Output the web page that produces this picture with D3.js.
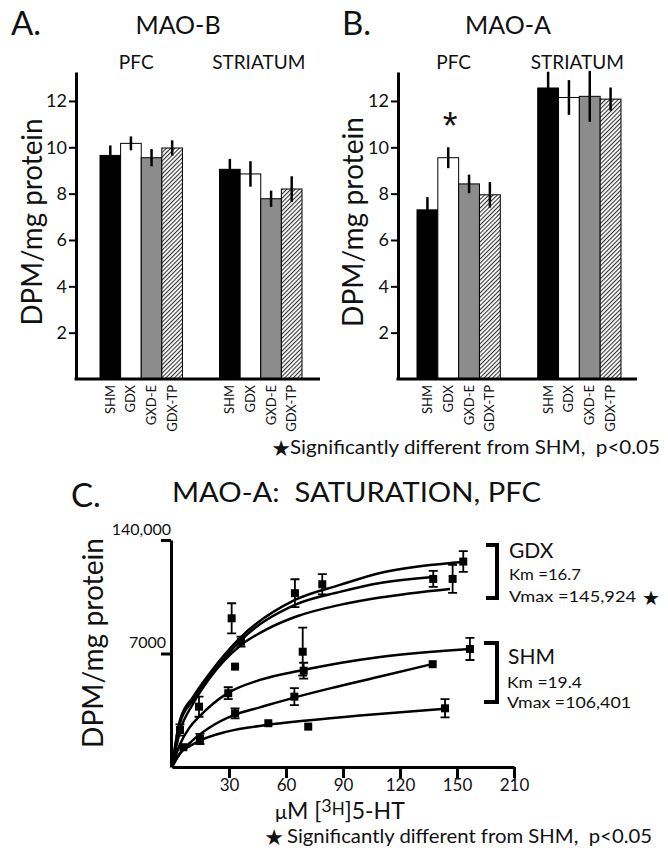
<!DOCTYPE html>
<html>
<head>
<meta charset="utf-8">
<script src="https://cdn.jsdelivr.net/npm/d3@7"></script>
<style>
  body { margin: 0; background: #fff; }
  text { font-family: Lato, "Open Sans", sans-serif; fill: #111; white-space: pre; }
  .star { font-family: "DejaVu Sans", sans-serif; }
</style>
</head>
<body>
<div id="chart"></div>
<script>
// ---- bar panels (A: MAO-B, B: MAO-A) ----
const groups = ["SHM", "GDX", "GXD-E", "GDX-TP"];
const regions = ["PFC", "STRIATUM"];
const barTicks = [2, 4, 6, 8, 10, 12];

const maoB_pfc = [9.65, 10.17, 9.55, 9.97];
const maoB_pfcErr = [0.43, 0.3, 0.37, 0.33];
const maoB_str = [9.05, 8.85, 7.78, 8.2];
const maoB_strErr = [0.45, 0.55, 0.35, 0.55];

const maoA_pfc = [7.3, 9.55, 8.42, 7.95];
const maoA_pfcErr = [0.55, 0.45, 0.4, 0.55];
const maoA_str = [12.56, 12.15, 12.2, 12.08];
const maoA_strErr = [0.7, 0.75, 1.1, 0.5];

// ---- saturation panel (C) ----
const satXTicks = [30, 60, 90, 120, 150, 180];
const satXLabels = ["30", "60", "90", "120", "150", "210"];
const satYTicks = [70000, 140000];
const satYLabels = ["7000", "140,000"];

// fitted curves: [µM, DPM/mg]
const gdxCurve1 = [[0, 0], [4.2, 29000], [11.1, 43200], [20, 58000], [35.8, 79600], [64.7, 103000], [88.4, 112300], [109.5, 119700], [135.8, 124600], [153.2, 126500]];
const gdxCurve2 = [[0, 0], [4.2, 27100], [11.1, 41300], [20, 56000], [35.8, 77700], [64.7, 100000], [88.4, 108000], [109.5, 113500], [137.4, 117200]];
const gdxCurve3 = [[0, 0], [4.2, 22000], [11.1, 39000], [20, 55000], [35.8, 74700], [50, 85000], [64.7, 92500], [88.4, 100000], [109.5, 104500], [146.3, 109800]];
const shmCurve1 = [[0, 0], [4.2, 14000], [9, 24000], [14.7, 31500], [29.5, 45700], [46.3, 53700], [68.9, 59800], [88.4, 64200], [109.5, 67900], [156.8, 72800]];
const shmCurve2 = [[0, 0], [4, 8000], [10, 15500], [20, 24500], [33.2, 32300], [46.3, 36800], [64.2, 42800], [83.2, 48500], [109.5, 55800], [137.4, 63600]];
const shmCurve3 = [[0, 0], [4.2, 8500], [9.5, 13000], [14.7, 16300], [28.9, 21800], [50.5, 26000], [71.1, 28700], [98.9, 31800], [143.7, 36000]];

// measured points: [µM, DPM/mg, sem]
const gdxPoints = [[14.2, 37200, 6200], [31.4, 91700, 9300], [36.3, 77300, 3100], [33.2, 61900, 0], [64.7, 107200, 8600], [79.1, 112700, 6200], [153.3, 126700, 6400], [137.5, 116000, 4900], [147.7, 116000, 8600]];
const shmPoints = [[68.8, 71100, 14800], [29.6, 45500, 3700], [69.3, 59400, 4900], [156.8, 72800, 6800], [33.2, 33100, 3100], [64.4, 43400, 5200], [137.2, 63400, 0], [14.7, 17300, 3100], [50.7, 27000, 0], [71.7, 24900, 0], [143.7, 36200, 5600], [6.0, 12200, 0], [4.2, 22800, 3500]];

const width = 668, height = 854;
const svg = d3.select("#chart").append("svg")
  .attr("width", width)
  .attr("height", height);

svg.append("rect").attr("width", width).attr("height", height).attr("fill", "#fff");

// hatch for GDX-TP
const defs = svg.append("defs");
const hatch = defs.append("pattern")
  .attr("id", "hatch")
  .attr("patternUnits", "userSpaceOnUse")
  .attr("width", 3).attr("height", 3)
  .attr("patternTransform", "rotate(45)");
hatch.append("rect").attr("width", 3).attr("height", 3).attr("fill", "#fff");
hatch.append("line").attr("x1", 0.5).attr("y1", 0).attr("x2", 0.5).attr("y2", 3)
  .attr("stroke", "#333").attr("stroke-width", 1.2);

const fills = { "SHM": "#000", "GDX": "#fff", "GXD-E": "#8c8c8c", "GDX-TP": "url(#hatch)" };

function barPanel(opt) {
  const g = svg.append("g");
  const y = d3.scaleLinear().domain([0, 13.25]).range([379, 72]);
  const outer = d3.scaleBand().domain(regions).range(opt.barRange).paddingInner(0.31);
  const inner = d3.scaleBand().domain(groups).range([0, outer.bandwidth()]);

  // letter + title
  g.append("text").attr("x", opt.letterX).attr("y", 35)
    .style("font-size", "33px").text(opt.letter);
  g.append("text").attr("x", opt.titleX).attr("y", 34)
    .attr("text-anchor", "middle").style("font-size", "25px").text(opt.title);

  // region labels
  g.selectAll(".region").data(regions).enter().append("text")
    .attr("x", d => outer(d) + outer.bandwidth() / 2 + (d === "PFC" ? -5 : -2))
    .attr("y", 69)
    .attr("text-anchor", "middle")
    .style("font-size", "19px")
    .text(d => d);

  const data = [];
  regions.forEach((r, ri) => {
    groups.forEach((gr, gi) => {
      data.push({ region: r, group: gr, value: opt.values[ri][gi], err: opt.errs[ri][gi] });
    });
  });

  g.selectAll(".bar").data(data).enter().append("rect")
    .attr("x", d => outer(d.region) + inner(d.group))
    .attr("y", d => y(d.value))
    .attr("width", inner.bandwidth())
    .attr("height", d => y(0) - y(d.value))
    .attr("fill", d => fills[d.group])
    .attr("stroke", "#000")
    .attr("stroke-width", 1);

  g.selectAll(".err").data(data).enter().append("line")
    .attr("x1", d => outer(d.region) + inner(d.group) + inner.bandwidth() / 2)
    .attr("x2", d => outer(d.region) + inner(d.group) + inner.bandwidth() / 2)
    .attr("y1", d => y(d.value - d.err))
    .attr("y2", d => y(d.value + d.err))
    .attr("stroke", "#000")
    .attr("stroke-width", 2.5);

  // axes
  const yAxis = g.append("g")
    .attr("transform", `translate(${opt.axisX},0)`)
    .call(d3.axisLeft(y).tickValues(barTicks).tickSize(7).tickSizeOuter(0).tickPadding(2));
  yAxis.select(".domain").attr("stroke-width", 3);
  yAxis.selectAll(".tick line").attr("stroke-width", 2);
  yAxis.selectAll(".tick text").style("font-size", "18px").style("font-family", "Lato, sans-serif");

  g.append("line")
    .attr("x1", opt.axisX - 1.5).attr("x2", opt.axisEnd)
    .attr("y1", y(0)).attr("y2", y(0))
    .attr("stroke", "#000").attr("stroke-width", 3);

  // category labels
  g.selectAll(".cat").data(data).enter().append("text")
    .attr("transform", d => `translate(${outer(d.region) + inner(d.group) + inner.bandwidth() / 2 + 4.5},${y(0) + 6}) rotate(-90)`)
    .attr("text-anchor", "end")
    .style("font-size", "13px")
    .text(d => d.group);

  // y title
  g.append("text")
    .attr("transform", `translate(${opt.yTitleX},${opt.yTitleY}) rotate(-90)`)
    .attr("text-anchor", "middle")
    .attr("textLength", opt.yTitleLen)
    .attr("lengthAdjust", "spacingAndGlyphs")
    .style("font-size", "29px")
    .text("DPM/mg protein");

  return { y, outer, inner, g };
}

barPanel({
  letter: "A.", letterX: 11, title: "MAO-B", titleX: 178,
  barRange: [100, 302], axisX: 76, axisEnd: 320,
  values: [maoB_pfc, maoB_str], errs: [maoB_pfcErr, maoB_strErr],
  yTitleX: 42, yTitleY: 222, yTitleLen: 207
});

const pB = barPanel({
  letter: "B.", letterX: 342, title: "MAO-A", titleX: 508,
  barRange: [417, 621], axisX: 398, axisEnd: 637,
  values: [maoA_pfc, maoA_str], errs: [maoA_pfcErr, maoA_strErr],
  yTitleX: 363, yTitleY: 222, yTitleLen: 210
});

// significance star above GDX PFC bar
pB.g.append("text")
  .attr("x", pB.outer("PFC") + pB.inner("GDX") + pB.inner.bandwidth() / 2 + 2)
  .attr("y", 139)
  .attr("text-anchor", "middle")
  .style("font-family", "'Liberation Sans', sans-serif")
  .style("font-size", "38px")
  .text("*");

// footnote under B
svg.append("text").attr("class", "star").attr("x", 281).attr("y", 456).attr("text-anchor", "middle")
  .style("font-size", "22px").text("★");
svg.append("text").attr("x", 290).attr("y", 454)
  .attr("textLength", 370).attr("lengthAdjust", "spacingAndGlyphs")
  .style("font-size", "19px").text("Significantly different from SHM,  p<0.05");

// ---- panel C ----
const gC = svg.append("g");
const xC = d3.scaleLinear().domain([0, 180]).range([172, 514]);
const yC = d3.scaleLinear().domain([0, 140000]).range([767, 540]);

gC.append("text").attr("x", 71).attr("y", 507).style("font-size", "33px").text("C.");
gC.append("text").attr("x", 172).attr("y", 502)
  .attr("textLength", 369).attr("lengthAdjust", "spacingAndGlyphs")
  .style("font-size", "27px").text("MAO-A:  SATURATION, PFC");

const line = d3.line()
  .x(d => xC(d[0]))
  .y(d => yC(d[1]))
  .curve(d3.curveMonotoneX);

[gdxCurve1, gdxCurve2, gdxCurve3, shmCurve1, shmCurve2, shmCurve3].forEach(c => {
  gC.append("path")
    .datum(c)
    .attr("d", line)
    .attr("fill", "none")
    .attr("stroke", "#000")
    .attr("stroke-width", 2.5);
});

const allPoints = gdxPoints.concat(shmPoints);
const withErr = allPoints.filter(d => d[2] > 0);
gC.selectAll(".ebar").data(withErr).enter().append("path")
  .attr("d", d => {
    const x = xC(d[0]), y1 = yC(d[1] - d[2]), y2 = yC(d[1] + d[2]);
    return `M${x},${y1}V${y2}M${x - 4.5},${y1}H${x + 4.5}M${x - 4.5},${y2}H${x + 4.5}`;
  })
  .attr("fill", "none")
  .attr("stroke", "#000")
  .attr("stroke-width", 1.8);

gC.selectAll(".pt").data(allPoints).enter().append("rect")
  .attr("x", d => xC(d[0]) - 4)
  .attr("y", d => yC(d[1]) - 4)
  .attr("width", 8).attr("height", 8)
  .attr("fill", "#000");

const xAxisC = gC.append("g")
  .attr("transform", `translate(0,${yC(0)})`)
  .call(d3.axisBottom(xC).tickValues(satXTicks).tickFormat((d, i) => satXLabels[i]).tickSize(11).tickSizeOuter(0).tickPadding(1));
xAxisC.select(".domain").attr("stroke-width", 3);
xAxisC.selectAll(".tick line").attr("stroke-width", 3);
xAxisC.selectAll(".tick text").style("font-size", "17px").style("font-family", "Lato, sans-serif");

const yAxisC = gC.append("g")
  .attr("transform", `translate(${xC(0) - 1},0)`)
  .call(d3.axisLeft(yC).tickValues(satYTicks).tickFormat((d, i) => satYLabels[i]).tickSize(10).tickSizeOuter(0));
yAxisC.select(".domain").attr("stroke-width", 3);
yAxisC.selectAll(".tick line").attr("stroke-width", 3);
yAxisC.selectAll(".tick text")
  .style("font-size", "16px").style("font-family", "Lato, sans-serif")
  .attr("x", (d, i) => i === 1 ? 0 : -5)
  .attr("dy", "-0.35em");

gC.append("text")
  .attr("transform", "translate(103,643) rotate(-90)")
  .attr("text-anchor", "middle")
  .attr("textLength", 210)
  .attr("lengthAdjust", "spacingAndGlyphs")
  .style("font-size", "29px")
  .text("DPM/mg protein");

const xt = gC.append("text").attr("x", 275).attr("y", 819).style("font-size", "23px");
xt.append("tspan").style("font-size", "20px").text("μ");
xt.append("tspan").text("M [");
xt.append("tspan").attr("dy", -7).style("font-size", "18px").text("3");
xt.append("tspan").attr("dy", 3).style("font-size", "17px").text("H");
xt.append("tspan").attr("dy", 4).text("]5-HT");

// group brackets and fit values
gC.append("path").attr("d", "M486,545H497V598H486").attr("fill", "none").attr("stroke", "#000").attr("stroke-width", 4);
gC.append("path").attr("d", "M484,643H497V702H484").attr("fill", "none").attr("stroke", "#000").attr("stroke-width", 4);

gC.append("text").attr("x", 509).attr("y", 558).style("font-size", "21px").text("GDX");
gC.append("text").attr("x", 509).attr("y", 580)
  .attr("textLength", 72).attr("lengthAdjust", "spacingAndGlyphs")
  .style("font-size", "15px").text("Km =16.7");
gC.append("text").attr("x", 509).attr("y", 602)
  .attr("textLength", 127).attr("lengthAdjust", "spacingAndGlyphs")
  .style("font-size", "15px").text("Vmax =145,924");
gC.append("text").attr("class", "star").attr("x", 651).attr("y", 605).attr("text-anchor", "middle")
  .style("font-size", "20px").text("★");

gC.append("text").attr("x", 508).attr("y", 664).style("font-size", "21px").text("SHM");
gC.append("text").attr("x", 507).attr("y", 688)
  .attr("textLength", 75).attr("lengthAdjust", "spacingAndGlyphs")
  .style("font-size", "15px").text("Km =19.4");
gC.append("text").attr("x", 507).attr("y", 708)
  .attr("textLength", 124).attr("lengthAdjust", "spacingAndGlyphs")
  .style("font-size", "15px").text("Vmax =106,401");

gC.append("text").attr("class", "star").attr("x", 274).attr("y", 845).attr("text-anchor", "middle")
  .style("font-size", "22px").text("★");
gC.append("text").attr("x", 287).attr("y", 843)
  .attr("textLength", 365).attr("lengthAdjust", "spacingAndGlyphs")
  .style("font-size", "19px").text("Significantly different from SHM,  p<0.05");
</script>
</body>
</html>
